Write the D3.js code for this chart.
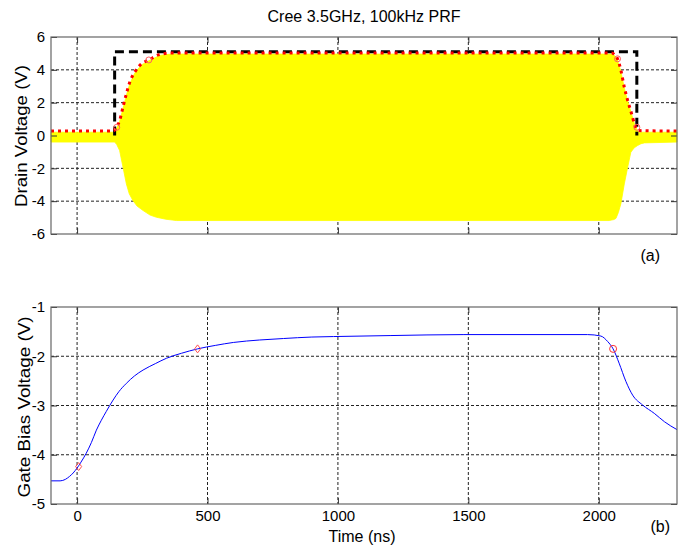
<!DOCTYPE html>
<html>
<head>
<meta charset="utf-8">
<script src="https://cdn.jsdelivr.net/npm/d3@7"></script>
<style>
    body { margin: 0; background: #fff; }
    text { font-family: "Liberation Sans", Arial, sans-serif; fill: #000; }
</style>
</head>
<body>
<svg id="chart" width="682" height="547"></svg>
<script>
// time axis shared by both panels (ns)
let timeTicks = [0, 500, 1000, 1500, 2000];
let drainTicks = [-6, -4, -2, 0, 2, 4, 6];
let gateTicks = [-5, -4, -3, -2, -1];

// (a) RF drain waveform envelope, yellow band
let bandTopT = [-100, 144, 152, 163, 176, 189, 202, 221, 247, 275, 317, 360, 2050, 2062, 2072, 2085, 2098, 2111, 2126, 2139, 2152, 2300];
let bandTopV = [0.2, 0.2, 0.45, 0.85, 1.65, 2.45, 3.15, 3.8, 4.3, 4.55, 4.88, 4.96, 4.96, 4.85, 4.6, 3.9, 2.9, 2.1, 1.3, 0.6, 0.2, 0.2];
let bandBotT = [-100, 144, 152, 163, 176, 189, 200, 214, 230, 253, 280, 304, 340, 381, 2040, 2058, 2066, 2075, 2085, 2098, 2111, 2123, 2136, 2149, 2162, 2175, 2300];
let bandBotV = [-0.4, -0.4, -0.55, -0.91, -1.93, -2.95, -3.55, -3.96, -4.3, -4.57, -4.85, -4.98, -5.1, -5.18, -5.18, -5.12, -5.05, -4.7, -4.15, -2.95, -1.93, -1.02, -0.75, -0.61, -0.5, -0.45, -0.4];

// (a) detected envelope (red dotted)
let envT = [-100, 140, 150, 163, 176, 189, 202, 221, 247, 275, 317, 360, 2050, 2062, 2072, 2085, 2098, 2111, 2126, 2139, 2152, 2300];
let envV = [0.27, 0.27, 0.5, 0.9, 1.73, 2.54, 3.25, 3.86, 4.37, 4.6, 4.94, 5.02, 5.02, 4.9, 4.67, 3.96, 2.94, 2.13, 1.32, 0.6, 0.3, 0.27];
let envMarkT = [152, 275, 2072, 2146];
let envMarkV = [0.5, 4.6, 4.67, 0.5];

// (a) ideal pulse (black dashed)
let pulseT = [144, 144, 2146, 2146];
let pulseV = [0, 5.1, 5.1, 0];

// (b) gate bias
let gateT = [-100, -65, -45, -29, -15, 0, 15, 35, 55, 74, 93, 112, 138, 160, 189, 220, 253, 300, 343, 400, 462, 530, 599, 700, 791, 900, 983, 1200, 1483, 1957, 2008, 2034, 2055, 2078, 2104, 2130, 2168, 2213, 2252, 2300];
let gateV = [-4.53, -4.53, -4.5, -4.44, -4.37, -4.27, -4.15, -3.97, -3.75, -3.5, -3.3, -3.12, -2.89, -2.72, -2.55, -2.4, -2.28, -2.15, -2.04, -1.94, -1.85, -1.78, -1.72, -1.67, -1.64, -1.61, -1.6, -1.58, -1.56, -1.56, -1.59, -1.7, -1.85, -2.14, -2.51, -2.79, -2.99, -3.16, -3.33, -3.49];
let gateDiamondT = [6, 462];
let gateDiamondV = [-4.24, -1.85];
let gateCircleT = [2055];
let gateCircleV = [-1.85];

let svg = d3.select('#chart');
let left = 51, right = 677;
let tickLen = 6;

let x = d3.scaleLinear().domain([-100, 2300]).range([left, right]);
let yA = d3.scaleLinear().domain([-6, 6]).range([234, 37]);
let yB = d3.scaleLinear().domain([-5, -1]).range([504, 307]);

function zip(ts, vs) {
    return ts.map((t, i) => [t, vs[i]]);
}

function drawFrame(y, yTicks, showX) {
    let g = svg.append('g');
    let [y0, y1] = y.range();

    // dotted grid
    g.selectAll('.gx').data(timeTicks).enter().append('line')
        .attr('x1', d => x(d)).attr('x2', d => x(d))
        .attr('y1', y1).attr('y2', y0)
        .attr('stroke', '#222').attr('stroke-width', 1)
        .attr('stroke-dasharray', '3,2');
    g.selectAll('.gy').data(yTicks.slice(1, -1)).enter().append('line')
        .attr('x1', left).attr('x2', right)
        .attr('y1', d => y(d)).attr('y2', d => y(d))
        .attr('stroke', '#222').attr('stroke-width', 1)
        .attr('stroke-dasharray', '3,2');
    return g;
}

function drawAxes(y, yTicks, showX) {
    let [y0, y1] = y.range();
    let g = svg.append('g');

    let ax = g.append('g').attr('transform', 'translate(' + left + ',0)')
        .call(d3.axisLeft(y).tickValues(yTicks).tickSize(-tickLen).tickPadding(6).tickFormat(d => String(d)));
    g.append('g').attr('transform', 'translate(' + right + ',0)')
        .call(d3.axisRight(y).tickValues(yTicks).tickSize(-tickLen).tickFormat(''));
    let bx = g.append('g').attr('transform', 'translate(0,' + y0 + ')')
        .call(d3.axisBottom(x).tickValues(timeTicks).tickSize(-tickLen).tickPadding(6)
            .tickFormat(showX ? (d => String(d)) : ''));
    g.append('g').attr('transform', 'translate(0,' + y1 + ')')
        .call(d3.axisTop(x).tickValues(timeTicks).tickSize(-tickLen).tickFormat(''));

    g.selectAll('.domain').remove();
    g.selectAll('.tick line').attr('stroke', '#333');
    g.selectAll('.tick text').style('font-size', '15px').attr('fill', '#000');

    g.append('rect')
        .attr('x', left).attr('y', y1)
        .attr('width', right - left).attr('height', y0 - y1)
        .attr('fill', 'none').attr('stroke', '#666').attr('stroke-width', 1.2);
}

// ---------- panel (a) ----------
drawFrame(yA, drainTicks);

let band = zip(bandTopT, bandTopV).concat(zip(bandBotT, bandBotV).reverse());
svg.append('path')
    .attr('d', d3.line().x(d => x(d[0])).y(d => yA(d[1]))(band) + 'Z')
    .attr('fill', '#ffff00').attr('stroke', '#ffff00').attr('stroke-width', 0.8);

svg.append('path')
    .attr('d', d3.line().x(d => x(d[0])).y(d => yA(d[1]))(zip(pulseT, pulseV)))
    .attr('fill', 'none').attr('stroke', '#000').attr('stroke-width', 3)
    .attr('stroke-dasharray', '9,5');

svg.append('path')
    .attr('d', d3.line().curve(d3.curveMonotoneX).x(d => x(d[0])).y(d => yA(d[1]))(zip(envT, envV)))
    .attr('fill', 'none').attr('stroke', '#ff0000').attr('stroke-width', 3)
    .attr('stroke-dasharray', '3,4');

svg.selectAll('.envMark').data(zip(envMarkT, envMarkV)).enter().append('circle')
    .attr('cx', d => x(d[0])).attr('cy', d => yA(d[1])).attr('r', 3)
    .attr('fill', 'none').attr('stroke', '#ff6060').attr('stroke-width', 1);

drawAxes(yA, drainTicks, false);

// ---------- panel (b) ----------
drawFrame(yB, gateTicks);

svg.append('path')
    .attr('d', d3.line().curve(d3.curveMonotoneX).x(d => x(d[0])).y(d => yB(d[1]))(zip(gateT, gateV)))
    .attr('fill', 'none').attr('stroke', '#0000ff').attr('stroke-width', 1);

svg.selectAll('.diamond').data(zip(gateDiamondT, gateDiamondV)).enter().append('path')
    .attr('transform', d => 'translate(' + x(d[0]) + ',' + yB(d[1]) + ')')
    .attr('d', 'M0,-4L3,0L0,4L-3,0Z')
    .attr('fill', 'none').attr('stroke', '#ff5050').attr('stroke-width', 1);

svg.selectAll('.gcirc').data(zip(gateCircleT, gateCircleV)).enter().append('circle')
    .attr('cx', d => x(d[0])).attr('cy', d => yB(d[1])).attr('r', 3.5)
    .attr('fill', 'none').attr('stroke', '#ff3030').attr('stroke-width', 1);

drawAxes(yB, gateTicks, true);

// ---------- texts ----------
svg.append('text')
    .attr('x', (left + right) / 2).attr('y', 22)
    .attr('text-anchor', 'middle').style('font-size', '16px')
    .text('Cree 3.5GHz, 100kHz PRF');

svg.append('text')
    .attr('transform', 'translate(27,136) rotate(-90)')
    .attr('text-anchor', 'middle').style('font-size', '16px')
    .attr('textLength', 142).attr('lengthAdjust', 'spacingAndGlyphs')
    .text('Drain Voltage (V)');

svg.append('text')
    .attr('transform', 'translate(30,407) rotate(-90)')
    .attr('text-anchor', 'middle').style('font-size', '16px')
    .attr('textLength', 181).attr('lengthAdjust', 'spacingAndGlyphs')
    .text('Gate Bias Voltage (V)');

svg.append('text')
    .attr('x', 362).attr('y', 542)
    .attr('text-anchor', 'middle').style('font-size', '16px')
    .text('Time (ns)');

svg.append('text')
    .attr('x', 660).attr('y', 261)
    .attr('text-anchor', 'end').style('font-size', '16px')
    .text('(a)');

svg.append('text')
    .attr('x', 670).attr('y', 532)
    .attr('text-anchor', 'end').style('font-size', '16px')
    .text('(b)');
</script>
</body>
</html>
